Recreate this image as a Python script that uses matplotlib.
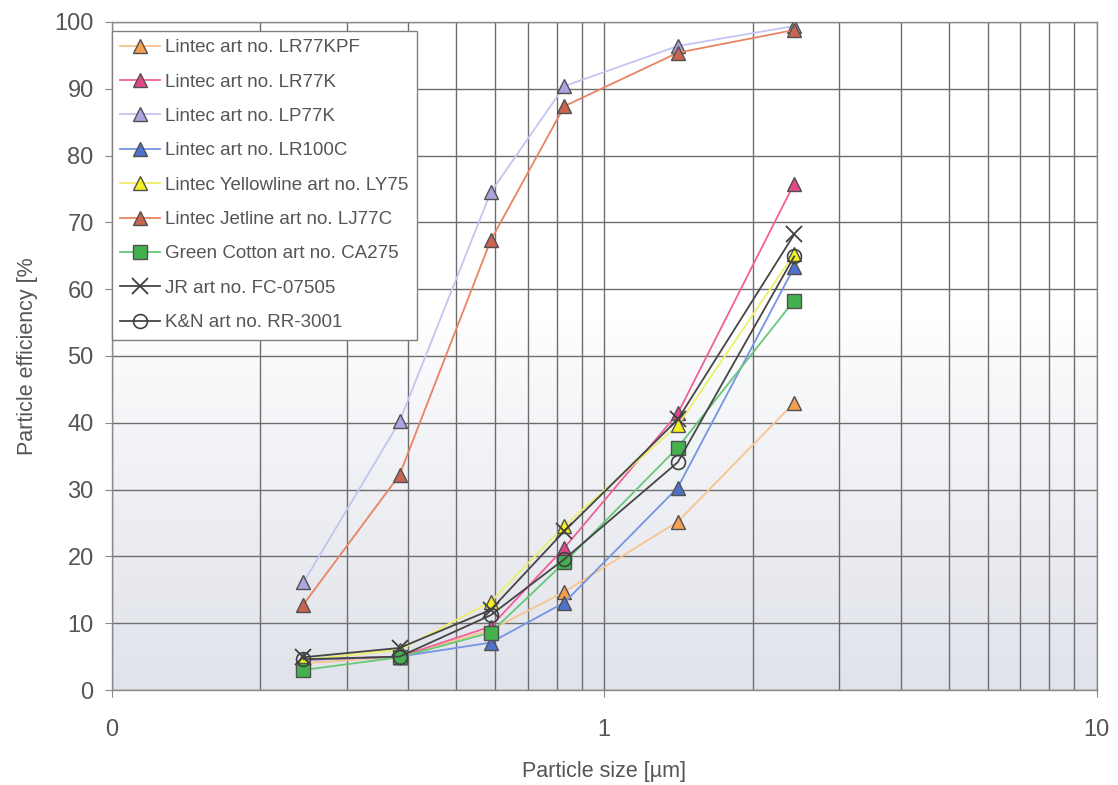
import numpy as np
import matplotlib
matplotlib.use('Agg')
import matplotlib.pyplot as plt
from matplotlib.ticker import FixedLocator, FixedFormatter, NullFormatter

plt.rcParams['font.family'] = ['Liberation Sans', 'DejaVu Sans']

# particle sizes [um]
size = [0.245, 0.384, 0.588, 0.83, 1.41, 2.43]

names = ['Lintec art no. LR77KPF', 'Lintec art no. LR77K', 'Lintec art no. LP77K',
         'Lintec art no. LR100C', 'Lintec Yellowline art no. LY75', 'Lintec Jetline art no. LJ77C',
         'Green Cotton art no. CA275', 'JR art no. FC-07505', 'K&N art no. RR-3001']

lr77kpf = [4.0, 5.0, 9.0, 14.7, 25.2, 43.0]
lr77k = [4.5, 5.0, 9.5, 21.3, 41.4, 75.8]
lp77k = [16.1, 40.2, 74.5, 90.4, 96.4, 99.4]
lr100c = [4.5, 5.0, 7.1, 13.1, 30.3, 63.3]
ly75 = [4.5, 6.0, 13.2, 24.6, 39.6, 65.3]
lj77c = [12.8, 32.2, 67.3, 87.4, 95.4, 98.8]
ca275 = [3.0, 4.9, 8.6, 19.1, 36.3, 58.3]
fc07505 = [4.9, 6.3, 12.0, 23.8, 40.5, 68.2]
kn3001 = [4.6, 5.0, 11.2, 19.6, 34.1, 64.9]

series = [lr77kpf, lr77k, lp77k, lr100c, ly75, lj77c, ca275, fc07505, kn3001]

line_col = ['#f8c48c', '#f0609a', '#c4c4f2', '#7494e4', '#eeee6a', '#e88462', '#66c878', '#454545', '#454545']
face_col = ['#f4a050', '#e0488a', '#aca4dc', '#4e72cc', '#f2f020', '#c86450', '#44b04e', 'none', 'none']
markers = ['^', '^', '^', '^', '^', '^', 's', 'x', 'o']

fig = plt.figure(figsize=(11.18, 7.85), dpi=100)
ax = fig.add_axes([0.100, 0.121, 0.881, 0.851])

# background: white on top, grey-blue towards the bottom
top = np.array([1.0, 1.0, 1.0])
bot = np.array([0.88, 0.89, 0.92])
g = np.linspace(1, 0, 256)  # 1 at top row
w = np.clip((0.55 - g) / 0.55, 0, 1) ** 0.8
img = top[None, None, :] + (bot - top)[None, None, :] * w[:, None, None]
ax.imshow(np.repeat(img, 2, axis=1), extent=[0, 1, 0, 1], transform=ax.transAxes,
          aspect='auto', zorder=0)

for i in range(len(series)):
    if markers[i] == 'x':
        ax.plot(size, series[i], color=line_col[i], lw=1.3, marker='x', ms=11, mew=1.3,
                mec='#404040', label=names[i], zorder=3)
    elif markers[i] == 'o':
        ax.plot(size, series[i], color=line_col[i], lw=1.3, marker='o', ms=10, mfc='none',
                mew=1.2, mec='#404040', label=names[i], zorder=3)
    else:
        ax.plot(size, series[i], color=line_col[i], lw=1.3, marker=markers[i], ms=10,
                mfc=face_col[i], mec='#505050', mew=1.0, label=names[i], zorder=3)

ax.set_xscale('log')
ax.set_xlim(0.1, 10)
ax.set_ylim(0, 100)
ax.xaxis.set_major_locator(FixedLocator([0.1, 1, 10]))
ax.xaxis.set_major_formatter(FixedFormatter(['0', '1', '10']))
ax.xaxis.set_minor_locator(FixedLocator([0.2, 0.3, 0.4, 0.5, 0.6, 0.7, 0.8, 0.9,
                                         2, 3, 4, 5, 6, 7, 8, 9]))
ax.xaxis.set_minor_formatter(NullFormatter())
ax.set_yticks(range(0, 101, 10))

ax.grid(True, which='both', axis='x', color='#6e6e6e', lw=1.0, zorder=1)
ax.grid(True, which='major', axis='y', color='#6e6e6e', lw=1.0, zorder=1)
ax.set_axisbelow(True)

for s in ax.spines.values():
    s.set_color('#8a8a8a')
    s.set_linewidth(1.0)

ax.tick_params(axis='both', which='major', labelsize=17, labelcolor='#555555',
               color='#8a8a8a', length=5)
ax.tick_params(axis='y', which='major', pad=8)
ax.tick_params(axis='x', which='major', pad=16)
ax.tick_params(axis='x', which='minor', length=0)

ax.set_xlabel('Particle size [µm]', fontsize=15.5, color='#555555', labelpad=14)
ax.set_ylabel('Particle efficiency [%', fontsize=15.5, color='#555555', labelpad=12)

leg = ax.legend(loc='upper left', fontsize=13.5, frameon=True, fancybox=False,
                handlelength=2.1, handletextpad=0.3, labelspacing=0.92,
                borderaxespad=0.0, borderpad=0.45,
                bbox_to_anchor=(0.0, 0.987))
leg.get_frame().set_edgecolor('#808080')
leg.get_frame().set_linewidth(1.0)
leg.get_frame().set_facecolor('white')
leg.get_frame().set_alpha(1)
for t in leg.get_texts():
    t.set_color('#555555')

fig.savefig('out.png', dpi=100)
